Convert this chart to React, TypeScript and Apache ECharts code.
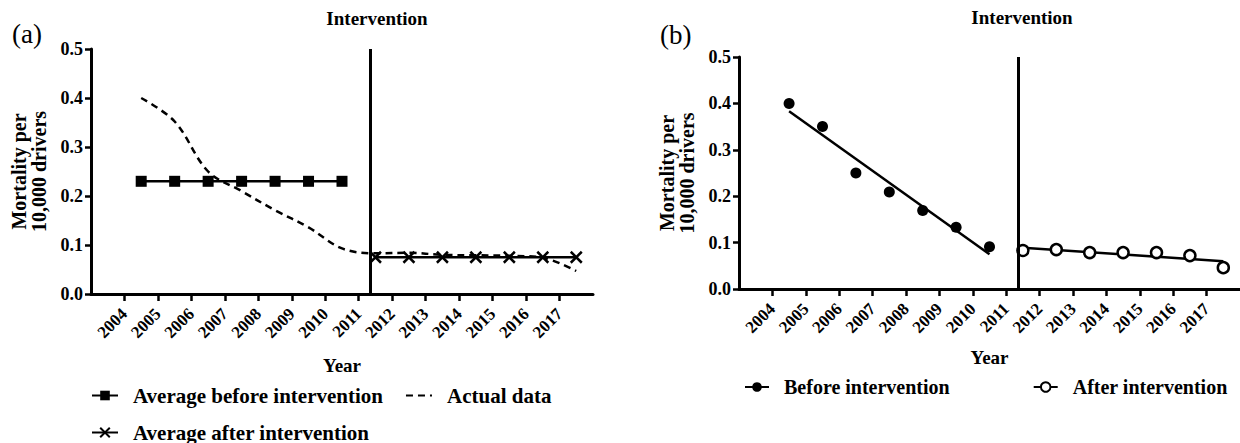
import React, { useEffect, useRef } from "react";
import * as echarts from "echarts";

const FONT = '"Liberation Serif", "Times New Roman", serif';

const YEARS = [2004, 2005, 2006, 2007, 2008, 2009, 2010, 2011, 2012, 2013, 2014, 2015, 2016, 2017];
const BEFORE_YEARS = [2004, 2005, 2006, 2007, 2008, 2009, 2010];
const AFTER_YEARS = [2011, 2012, 2013, 2014, 2015, 2016, 2017];

// Panel (a)
const ACTUAL_DATA = [0.4, 0.352, 0.25, 0.21, 0.171, 0.136, 0.093, 0.083, 0.084, 0.08, 0.079, 0.078, 0.074, 0.047];
const AVG_BEFORE = [0.23, 0.23, 0.23, 0.23, 0.23, 0.23, 0.23];
const AVG_AFTER = [0.075, 0.075, 0.075, 0.075, 0.075, 0.075, 0.075];

// Panel (b)
const BEFORE_OBS = [0.4, 0.35, 0.25, 0.209, 0.169, 0.133, 0.091];
const AFTER_OBS = [0.083, 0.085, 0.0785, 0.0785, 0.0785, 0.072, 0.046];
const BEFORE_FIT_YEARS = [2004, 2010];
const BEFORE_FIT = [0.383, 0.075];
const AFTER_FIT_YEARS = [2011, 2017];
const AFTER_FIT = [0.089, 0.06];

const INTERVENTION = 2011.35;
const X_MIN = 2003;
const X_MAX = 2018;

// Prism-style: each year's point sits in the middle of its interval
const mid = (y: number) => y + 0.5;
const pairs = (years: number[], vals: number[]) => years.map((y, i) => [mid(y), vals[i]]);

const CROSS = "path://M0,0L10,10M10,0L0,10";

export default function App() {
  const ref = useRef<HTMLDivElement>(null);

  useEffect(() => {
    if (!ref.current) return;
    const chart = echarts.init(ref.current, undefined, { renderer: "svg" });

    const textBase = { fontFamily: FONT, fontWeight: "bold" as const, color: "#000" };

    const xAxis = (gridIndex: number, nameGap: number) => ({
      type: "value",
      gridIndex,
      min: X_MIN,
      max: X_MAX,
      interval: 1,
      name: "Year",
      nameLocation: "middle",
      nameGap,
      nameTextStyle: { ...textBase, fontSize: 19 },
      axisLine: { show: true, onZero: false, lineStyle: { color: "#000", width: 3 } },
      axisTick: { show: true, customValues: YEARS, length: 7, lineStyle: { color: "#000", width: 2.5 } },
      axisLabel: {
        customValues: YEARS,
        rotate: 45,
        margin: 17,
        ...textBase,
        fontSize: 17,
        formatter: (v: number) => String(v),
      },
      splitLine: { show: false },
    });

    const yAxis = (gridIndex: number) => ({
      type: "value",
      gridIndex,
      min: 0,
      max: 0.5,
      interval: 0.1,
      name: "Mortality per\n10,000 drivers",
      nameLocation: "middle",
      nameGap: 42,
      nameRotate: 90,
      nameTextStyle: { ...textBase, fontSize: 20, lineHeight: 20 },
      axisLine: { show: true, lineStyle: { color: "#000", width: 3 } },
      axisTick: { show: true, length: 6, lineStyle: { color: "#000", width: 2.5 } },
      axisLabel: { ...textBase, fontSize: 18, margin: 8, formatter: (v: number) => v.toFixed(1) },
      splitLine: { show: false },
    });

    const interventionLine = {
      silent: true,
      symbol: "none",
      label: { show: false },
      lineStyle: { color: "#000", width: 3, type: "solid" },
      data: [{ xAxis: INTERVENTION }],
    };

    const legendBase = (fontSize: number) => ({
      selectedMode: false,
      padding: 0,
      itemWidth: 26,
      itemHeight: 12,
      textStyle: { ...textBase, fontSize, padding: [0, 0, 0, 10] },
    });

    chart.setOption({
      animation: false,
      backgroundColor: "#fff",
      grid: [
        { left: 91, top: 49, width: 502, height: 245 },
        { left: 739, top: 57, width: 511, height: 232 },
      ],
      xAxis: [xAxis(0, 62), xAxis(1, 59)],
      yAxis: [yAxis(0), yAxis(1)],
      legend: [
        { ...legendBase(21), left: 91, top: 385, itemGap: 22, data: ["Average before intervention", "Actual data"] },
        { ...legendBase(21), left: 91, top: 422, data: ["Average after intervention"] },
        { ...legendBase(20), left: 744, top: 377, itemWidth: 24, itemGap: 83, data: ["Before intervention", "After intervention"] },
      ],
      graphic: [
        { type: "text", x: 12, y: 34, style: { text: "(a)", fill: "#000", font: `normal 27px ${FONT}`, verticalAlign: "middle" } },
        { type: "text", x: 660, y: 35, style: { text: "(b)", fill: "#000", font: `normal 27px ${FONT}`, verticalAlign: "middle" } },
        { type: "text", x: 377, y: 18, style: { text: "Intervention", fill: "#000", font: `bold 19px ${FONT}`, align: "center", verticalAlign: "middle" } },
        { type: "text", x: 1022, y: 17, style: { text: "Intervention", fill: "#000", font: `bold 19px ${FONT}`, align: "center", verticalAlign: "middle" } },
      ],
      series: [
        {
          name: "Average before intervention",
          type: "line",
          xAxisIndex: 0,
          yAxisIndex: 0,
          data: pairs(BEFORE_YEARS, AVG_BEFORE),
          symbol: "rect",
          symbolSize: 11,
          itemStyle: { color: "#000" },
          lineStyle: { color: "#000", width: 2.5 },
          markLine: interventionLine,
        },
        {
          name: "Average after intervention",
          type: "line",
          xAxisIndex: 0,
          yAxisIndex: 0,
          data: pairs(AFTER_YEARS, AVG_AFTER),
          symbol: CROSS,
          symbolSize: 11,
          itemStyle: { color: "#000", borderColor: "#000", borderWidth: 2.5 },
          lineStyle: { color: "#000", width: 2.5 },
        },
        {
          name: "Actual data",
          type: "line",
          xAxisIndex: 0,
          yAxisIndex: 0,
          data: pairs(YEARS, ACTUAL_DATA),
          smooth: 0.35,
          symbol: "none",
          itemStyle: { color: "#000", opacity: 0 },
          lineStyle: { color: "#000", width: 2.5, type: [7, 5], opacity: 1 },
          z: 3,
        },
        {
          name: "Before intervention",
          type: "line",
          xAxisIndex: 1,
          yAxisIndex: 1,
          data: pairs(BEFORE_FIT_YEARS, BEFORE_FIT).map((p) => ({ value: p, symbol: "none" })),
          symbol: "circle",
          symbolSize: 10,
          itemStyle: { color: "#000", opacity: 1 },
          lineStyle: { color: "#000", width: 2.5 },
          markLine: interventionLine,
        },
        {
          name: "Before intervention",
          type: "scatter",
          xAxisIndex: 1,
          yAxisIndex: 1,
          data: pairs(BEFORE_YEARS, BEFORE_OBS),
          symbol: "circle",
          symbolSize: 11,
          itemStyle: { color: "#000", opacity: 1 },
        },
        {
          name: "After intervention",
          type: "line",
          xAxisIndex: 1,
          yAxisIndex: 1,
          data: pairs(AFTER_FIT_YEARS, AFTER_FIT).map((p) => ({ value: p, symbol: "none" })),
          symbol: "emptyCircle",
          symbolSize: 10,
          itemStyle: { color: "#000", borderColor: "#000", borderWidth: 2 },
          lineStyle: { color: "#000", width: 2.5 },
        },
        {
          name: "After intervention",
          type: "scatter",
          xAxisIndex: 1,
          yAxisIndex: 1,
          data: pairs(AFTER_YEARS, AFTER_OBS),
          symbol: "circle",
          symbolSize: 11,
          itemStyle: { color: "#fff", borderColor: "#000", borderWidth: 2.5, opacity: 1 },
          z: 3,
        },
      ],
    });

    return () => chart.dispose();
  }, []);

  return (
    <div
      ref={ref}
      style={{ position: "fixed", left: 0, top: 0, width: 1240, height: 443, background: "#fff" }}
    />
  );
}
